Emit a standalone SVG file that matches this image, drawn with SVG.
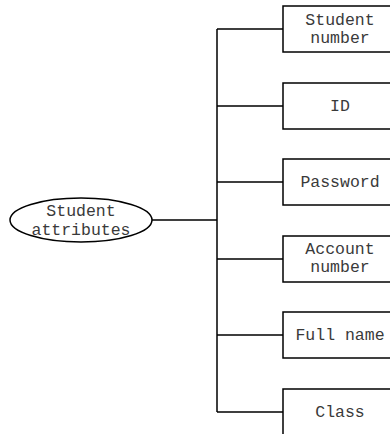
<svg xmlns="http://www.w3.org/2000/svg" width="390" height="434" viewBox="0 0 390 434">
<style>
.shape{fill:#fff;stroke:#000;stroke-width:1.5}
.conn{fill:none;stroke:#000;stroke-width:1.5}
text{font-family:"Liberation Mono","DejaVu Sans Mono",monospace;font-size:16.5px;fill:#3a3a3a;text-anchor:middle}
</style>
<rect width="390" height="434" fill="#fff"/>
<g id="connectors">
<path class="conn" d="M152 220 H217 M217 29 V412 M217 29 H283 M217 106 H283 M217 182 H283 M217 259 H283 M217 335 H283 M217 412 H283"/>
</g>
<g id="root">
<ellipse class="shape" cx="81" cy="220" rx="71" ry="22"/>
<text x="81" y="216">Student</text>
<text x="81" y="235">attributes</text>
</g>
<g id="n1">
<rect class="shape" x="283" y="6" width="114" height="46"/>
<text x="340" y="25">Student</text>
<text x="340" y="43">number</text>
</g>
<g id="n2">
<rect class="shape" x="283" y="83" width="114" height="46"/>
<text x="340" y="111">ID</text>
</g>
<g id="n3">
<rect class="shape" x="283" y="159" width="114" height="46"/>
<text x="340" y="187">Password</text>
</g>
<g id="n4">
<rect class="shape" x="283" y="236" width="114" height="46"/>
<text x="340" y="254">Account</text>
<text x="340" y="272">number</text>
</g>
<g id="n5">
<rect class="shape" x="283" y="312" width="114" height="46"/>
<text x="340" y="340">Full name</text>
</g>
<g id="n6">
<rect class="shape" x="283" y="389" width="114" height="46"/>
<text x="340" y="417">Class</text>
</g>
</svg>
